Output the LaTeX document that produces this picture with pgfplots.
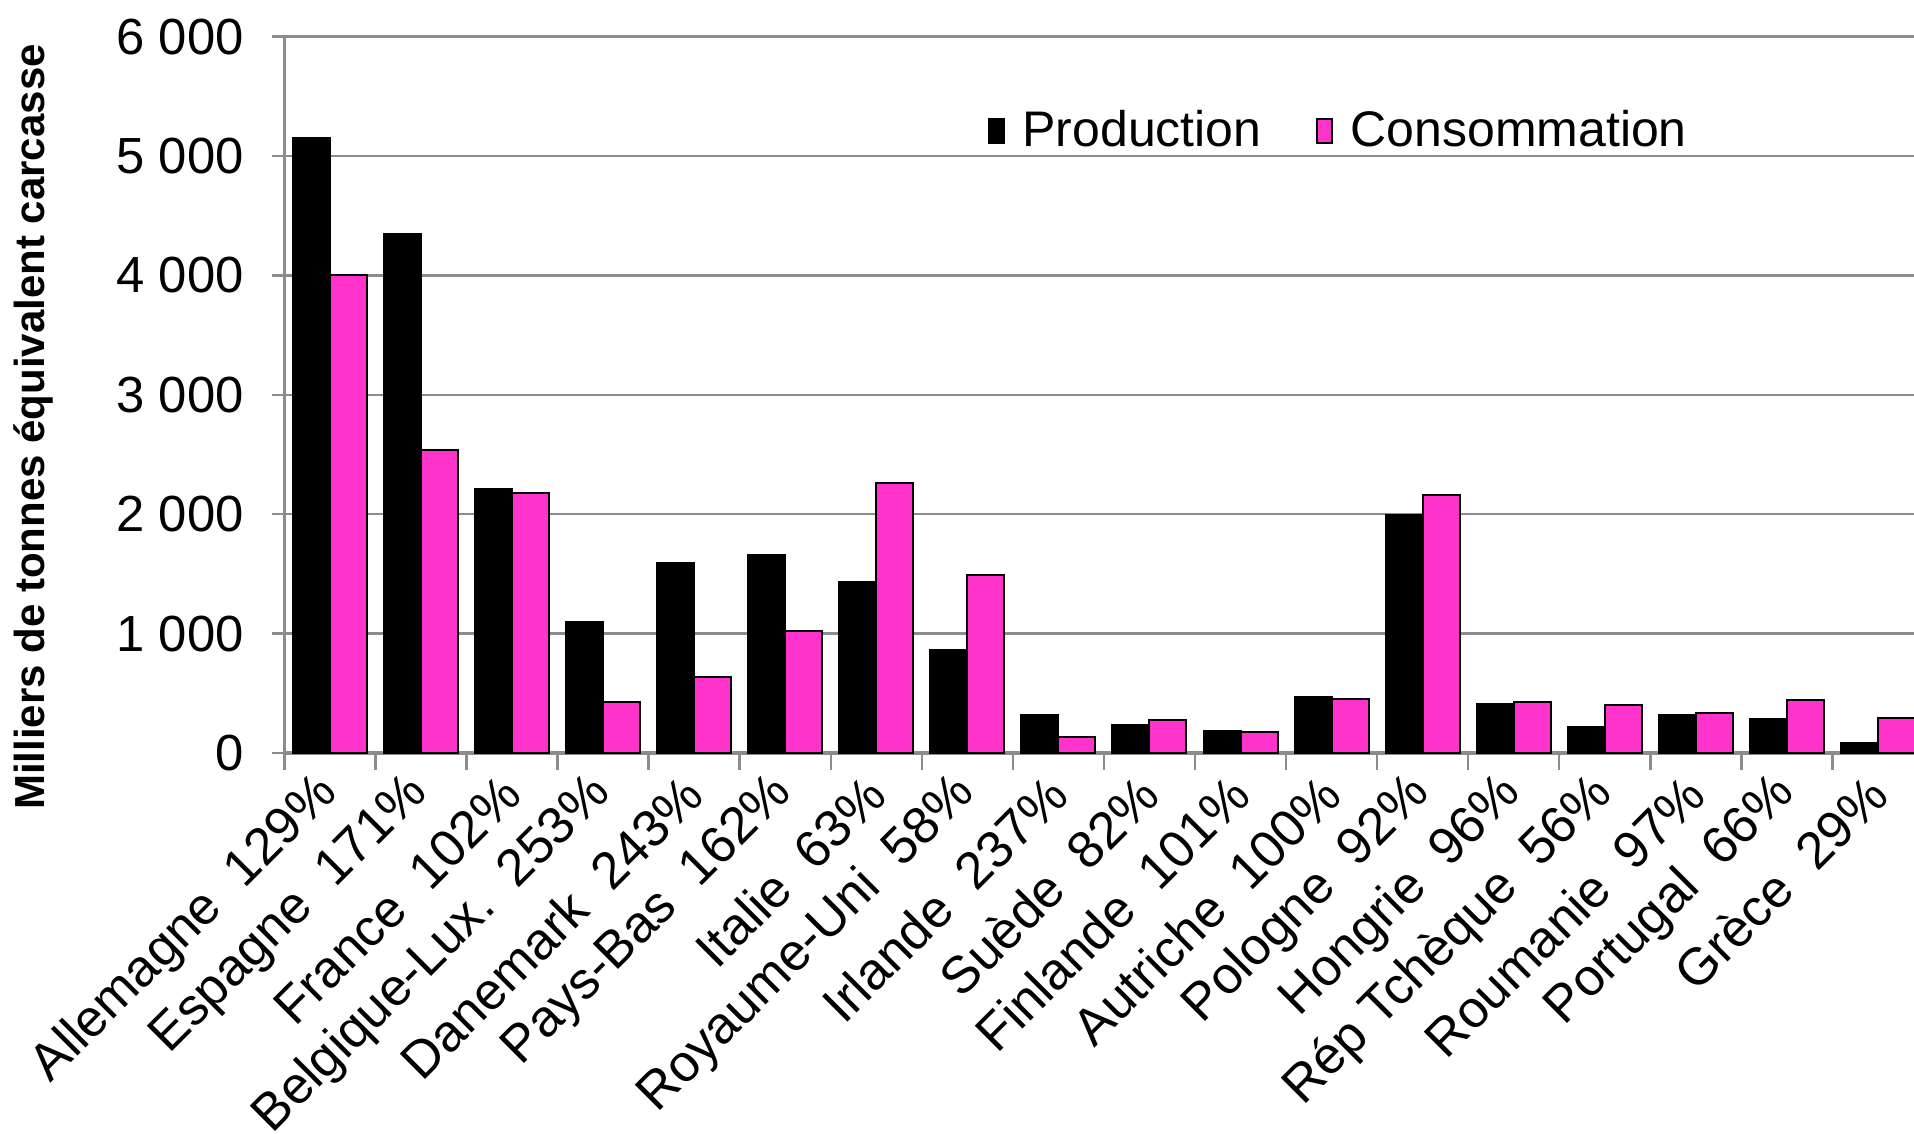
\documentclass[border=0pt]{standalone}
\usepackage{fontspec}
\setmainfont{Liberation Sans}
\usepackage{pgfplots}
\usepackage{pgfplotstable}
\pgfplotsset{compat=1.18}
\definecolor{consom}{HTML}{FF33CC}
\definecolor{gridgrey}{HTML}{8C8C8C}

% x = category index, P = production, C = consommation
\pgfplotstableread{
x P C
0 5150 4000
1 4350 2540
2 2210 2180
3 1100 430
4 1590 640
5 1660 1020
6 1430 2260
7 860 1490
8 322 133
9 231 280
10 181 175
11 470 455
12 1990 2160
13 414 430
14 215 402
15 322 336
16 281 445
17 80 292
}\data

\begin{document}
\begin{tikzpicture}
\begin{axis}[
    at={(0,0)}, anchor=south west,
    scale only axis,
    width=407.4bp, height=179.1bp,
    ybar=0pt, bar width=9.25bp,
    xmin=-0.5, xmax=17.396,
    ymin=0, ymax=6000,
    axis x line=bottom, axis y line=left,
    axis line style={draw=gridgrey, line width=0.8bp, -},
    ymajorgrids,
    grid style={draw=gridgrey, line width=0.6bp},
    tick align=outside,
    major tick length=3bp,
    minor tick length=4.25bp,
    tick style={draw=gridgrey, line width=0.6bp},
    major x tick style={draw=none},
    xtick={0,...,17},
    minor xtick={-0.5,0.5,...,16.5},
    xticklabels={Allemagne\ \ 129\%, Espagne\ \ 171\%, France\ \ 102\%,
        Belgique-Lux.\ \ 253\%, Danemark\ \ 243\%, Pays-Bas\ \ 162\%,
        Italie\ \ 63\%, Royaume-Uni\ \ 58\%, Irlande\ \ 237\%, Suède\ \ 82\%,
        Finlande\ \ 101\%, Autriche\ \ 100\%, Pologne\ \ 92\%, Hongrie\ \ 96\%,
        Rép Tchèque\ \ 56\%, Roumanie\ \ 97\%, Portugal\ \ 66\%, Grèce\ \ 29\%},
    xticklabel style={rotate=45, anchor=east, inner sep=0pt,
        font=\fontsize{13bp}{15bp}\selectfont},
    xticklabel shift=5bp,
    ytick={0,1000,...,6000},
    yticklabels={0,1 000,2 000,3 000,4 000,5 000,6 000},
    yticklabel style={font=\fontsize{12.7bp}{14bp}\selectfont, inner sep=0pt},
    yticklabel shift=7bp,
    ylabel={\bfseries Milliers de tonnes équivalent carcasse},
    every axis y label/.style={at={(axis description cs:-0.1537,0.455)},
        anchor=center, rotate=90,
        font=\fontsize{10.5bp}{12bp}\selectfont},
    legend style={at={(axis description cs:0.431,0.868)}, anchor=west,
        draw=none, fill=none, inner sep=0pt,
        font=\fontsize{12.5bp}{14bp}\selectfont,
        /tikz/every odd column/.append style={column sep=2.5bp},
        /tikz/every even column/.append style={column sep=11.5bp}},
    legend columns=2,
    legend image code/.code={\draw[#1, line width=0.5bp] (0bp,-3bp) rectangle (3.75bp,3bp);},
]
\addplot[draw=black, fill=black, line width=0.5bp] table[x=x, y=P] {\data};
\addplot[draw=black, fill=consom, line width=0.5bp] table[x=x, y=C] {\data};
\legend{Production, Consommation}
\end{axis}
\pgfresetboundingbox
\useasboundingbox (-71.1bp,-95.25bp) rectangle (407.4bp,188.25bp);
\end{tikzpicture}
\end{document}
